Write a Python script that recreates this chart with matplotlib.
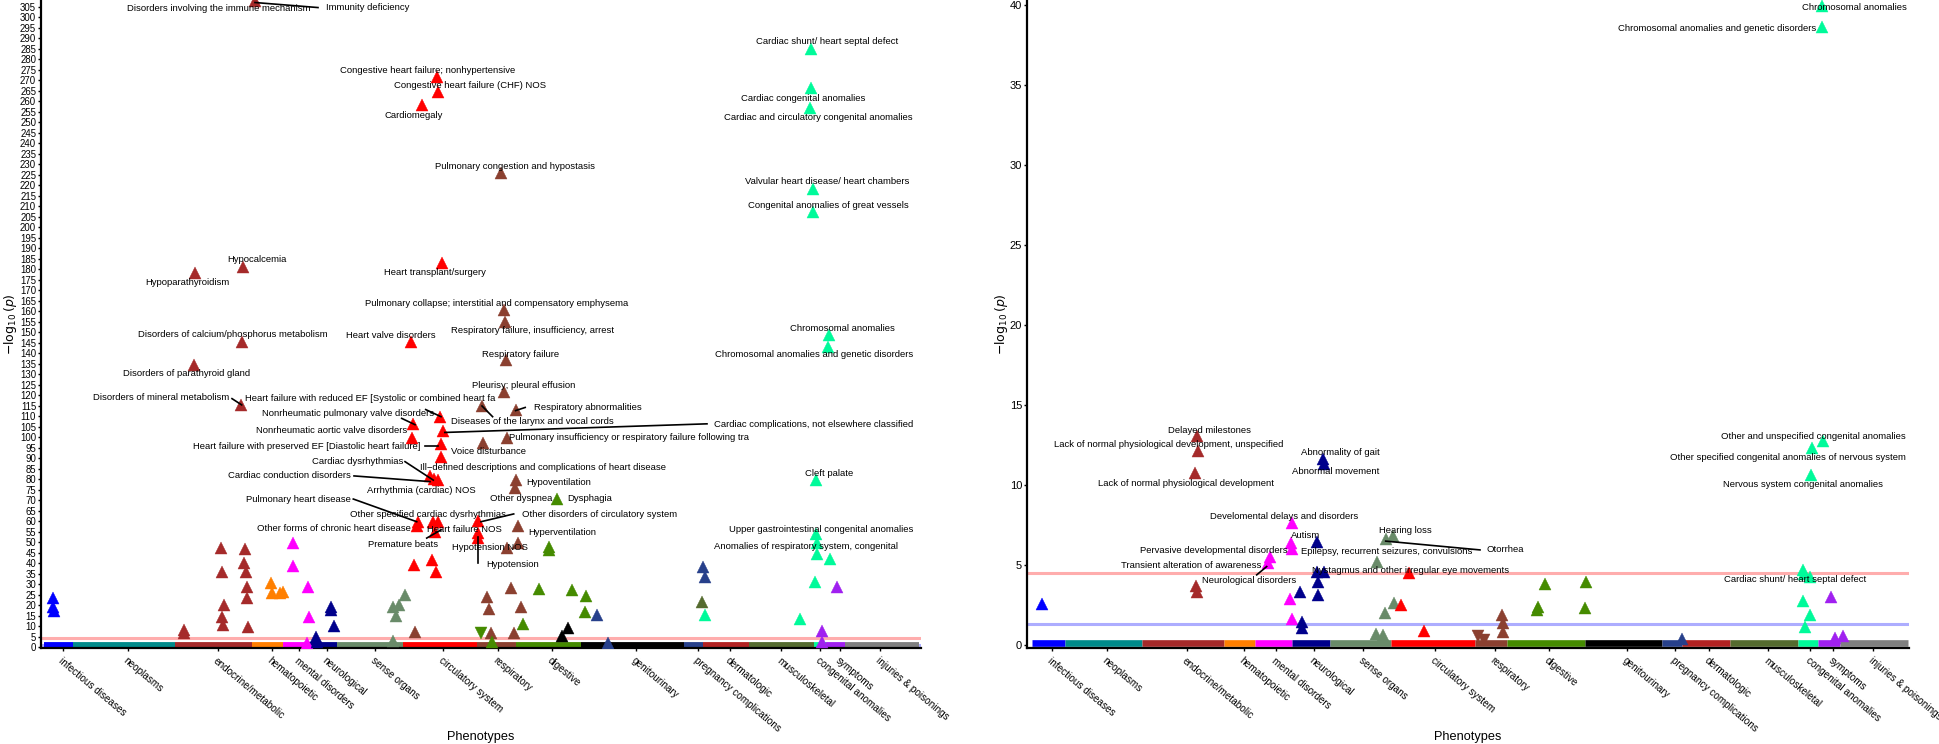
import matplotlib
matplotlib.use("Agg")
import matplotlib.pyplot as plt

plt.rcParams['font.family'] = ['Liberation Sans', 'DejaVu Sans']

# phenotype groups, shared by both panels
categories = ["infectious diseases", "neoplasms", "endocrine/metabolic", "hematopoietic",
              "mental disorders", "neurological", "sense organs", "circulatory system",
              "respiratory", "digestive", "genitourinary", "pregnancy complications",
              "dermatologic", "musculoskeletal", "congenital anomalies", "symptoms",
              "injuries & poisonings"]
cat_colors = ["#0000FF", "#008B8B", "#A52A2A", "#FF7F00", "#FF00FF", "#00008B", "#698B69",
              "#FF0000", "#8B4030", "#458B00", "#000000", "#27408B", "#B22222", "#556B2F",
              "#00FA9A", "#A020F0", "#7F7F7F"]

# ---- left panel ----------------------------------------------------------
left_ticks = [22, 87, 177, 231, 258, 286, 334, 402, 457, 511, 595, 657, 689, 740, 779, 799, 839]
left_span_start = [3, 32, 134, 211, 242, 266, 296, 362, 436, 475, 540, 643, 662, 708, 773, 785, 804]
left_span_end = [32, 134, 211, 242, 266, 296, 362, 436, 475, 540, 643, 662, 708, 773, 785, 804, 878]

left_x = [12, 12, 13,
          214, 202, 154, 201, 153, 200, 143, 143, 180, 181, 183, 181, 182, 204, 203, 205, 206, 206, 207,
          230, 231, 239, 242,
          252, 252, 267, 268, 266,
          290, 290, 293, 275, 276,
          364, 358, 352, 355, 352,
          396, 397, 381, 401, 370, 399, 372, 402, 371, 400, 400, 389, 393, 397, 376, 377, 392, 397, 394,
          437, 437, 437, 373, 391, 395, 374,
          460, 463, 464, 465, 463, 441, 475, 442, 466, 475, 474, 477, 477, 466, 470, 446, 448, 480, 450,
          473, 451, 440,
          516, 508, 508, 498, 531, 545, 544, 482, 527, 521,
          556, 567,
          662, 664, 661, 664,
          759,
          770, 770, 769, 772, 772, 788, 787, 775, 775, 776, 776, 789, 774, 781, 781,
          796, 800, 798]
left_y = [23.3, 19.3, 17.5,
          307.5, 181.2, 178.4, 145.2, 134.4, 115.4, 8.2, 6.7, 47.4, 35.7, 20.1, 14.3, 10.6, 46.8, 40, 36,
          28.9, 23.3, 9.5,
          30.5, 26, 26, 26.5,
          49.5, 38.9, 28.9, 14.3, 2.2,
          19.3, 17.7, 10.1, 5, 2.7,
          24.9, 20.1, 19, 15, 3.1,
          271.7, 264.6, 258.2, 182.9, 145.5, 109.8, 106.3, 103.1, 99.5, 96.8, 90.5, 81.5, 80, 79.5, 57.8,
          59.5, 59.8, 59.8, 55,
          60.3, 54.3, 51.9, 39.2, 41.6, 35.7, 7.1,
          225.7, 160.6, 155, 136.8, 121.7, 114.9, 113, 97.4, 99.5, 79.7, 75.7, 57.9, 49.5, 47.1, 28.1,
          24.1, 18.1, 19, 6.6,
          7, 2.7, 6.6,
          70.5, 47.9, 46.3, 27.8, 27.3, 24.6, 16.7, 11, 9, 5.4,
          15.4, 1.9,
          38.4, 33.7, 21.7, 15.4,
          13.3,
          284.9, 266.2, 257, 218.2, 207.4, 148.7, 143.1, 79.7, 54, 49.5, 44.4, 42, 30.9, 7.8, 2.7,
          28.9, 3.5, 1.5]
left_cat = [0] * 3 + [2] * 19 + [3] * 4 + [4] * 5 + [5] * 5 + [6] * 5 + [7] * 25 + \
           [8] * 21 + [9] * 10 + [10] * 2 + [11] * 4 + [13] + [14] * 15 + [15] * 3
left_down = [False] * len(left_x)
left_down[left_x.index(440)] = True

left_labels = ["Disorders involving the immune mechanism", "Immunity deficiency",
               "Congestive heart failure; nonhypertensive", "Congestive heart failure (CHF) NOS",
               "Cardiomegaly", "Pulmonary congestion and hypostasis", "Hypocalcemia",
               "Hypoparathyroidism", "Heart transplant/surgery",
               "Pulmonary collapse; interstitial and compensatory emphysema",
               "Respiratory failure, insufficiency, arrest", "Heart valve disorders",
               "Disorders of calcium/phosphorus metabolism", "Respiratory failure",
               "Disorders of parathyroid gland", "Chromosomal anomalies",
               "Chromosomal anomalies and genetic disorders", "Cardiac shunt/ heart septal defect",
               "Cardiac congenital anomalies", "Cardiac and circulatory congenital anomalies",
               "Valvular heart disease/ heart chambers", "Congenital anomalies of great vessels",
               "Disorders of mineral metabolism",
               "Heart failure with reduced EF [Systolic or combined heart fa",
               "Pleurisy; pleural effusion", "Respiratory abnormalities",
               "Nonrheumatic pulmonary valve disorders", "Diseases of the larynx and vocal cords",
               "Cardiac complications, not elsewhere classified",
               "Nonrheumatic aortic valve disorders",
               "Pulmonary insufficiency or respiratory failure following tra",
               "Heart failure with preserved EF [Diastolic heart failure]", "Voice disturbance",
               "Cardiac dysrhythmias",
               "Ill\u2212defined descriptions and complications of heart disease",
               "Cardiac conduction disorders", "Cleft palate", "Hypoventilation",
               "Arrhythmia (cardiac) NOS", "Other dyspnea", "Dysphagia", "Pulmonary heart disease",
               "Other specified cardiac dysrhythmias", "Other disorders of circulatory system",
               "Other forms of chronic heart disease", "Heart failure NOS",
               "Upper gastrointestinal congenital anomalies", "Hyperventilation", "Premature beats",
               "Anomalies of respiratory system, congenital", "Hypotension NOS", "Hypotension"]
left_label_x = [177.5, 326.5, 387, 429, 373, 473.7, 216, 146, 394, 455.5, 492, 350, 192, 479.5,
                146, 801.7, 773, 785.8, 762, 777.5, 786, 787, 120, 329.5, 483, 546.4, 306.8,
                491.6, 773, 291, 588, 265.5, 447.7, 316.8, 502.4, 248.7, 788, 517.3, 380, 480,
                549, 257, 387.5, 559, 293.3, 423.4, 780, 521, 361.7, 765, 449.4, 472]
left_label_y = [304, 304.4, 274.7, 267.4, 253.1, 228.9, 184.8, 173.6, 178.4, 163.8, 150.8, 148.4,
                148.7, 139.5, 130.6, 151.9, 139.2, 288.6, 261.1, 252.4, 221.7, 210.5, 118.9, 118.7,
                124.6, 114.4, 111.4, 107.4, 106.2, 103.1, 99.8, 95.5, 93, 88.4, 85.5, 81.6, 82.7,
                78.4, 74.6, 70.8, 71, 70.6, 63.3, 63.1, 56.5, 56.3, 56.2, 54.8, 49, 48.2, 47.4,
                39.2]
# leader lines: (x0, y0, x1, y1)
left_segments = [(214, 307, 277, 304.6), (191, 118.4, 200.7, 115.4), (384.7, 113.2, 400, 109.8),
                 (360.7, 109.0, 374, 106), (666, 106.4, 403.8, 102.3), (384, 95.8, 397.3, 95.8),
                 (364, 88.4, 392.3, 79.6), (313, 81.6, 389, 78.9), (312.3, 70.6, 375.7, 59.8),
                 (472.7, 63.5, 440, 59.8), (385.7, 52, 400, 55.9), (437.5, 40, 437.5, 52.7),
                 (441, 114.9, 451.6, 109.8), (484.2, 114.2, 474.6, 112.7)]

# ---- right panel ---------------------------------------------------------
right_ticks = [25, 80, 160, 217, 249, 287, 336, 408, 468, 522, 600, 648, 682, 741, 783, 806, 846]
right_span_start = [5, 38, 115, 197, 228, 265, 303, 364, 448, 480, 558, 635, 655, 703, 771, 791, 813]
right_span_end = [38, 115, 197, 228, 265, 303, 364, 448, 480, 558, 635, 655, 703, 771, 791, 813, 881]

right_x = [15,
           170, 171, 168, 169, 170,
           265, 264, 265, 243, 241, 263, 265,
           296, 297, 290, 290, 297, 291, 291, 273, 275, 275,
           359, 366, 350, 367, 358, 349, 356,
           382, 374, 397,
           475, 476, 476, 451, 457,
           518, 559, 511, 510, 558,
           655,
           795, 795, 796, 785, 784, 776, 777, 783, 776, 783, 778,
           804, 808, 816]
right_y = [2.54,
           13.04, 12.1, 10.75, 3.67, 3.31,
           7.63, 6.38, 6.0, 5.5, 5.08, 2.84, 1.59,
           11.6, 11.3, 6.4, 4.56, 4.56, 3.94, 3.1, 3.27, 1.44, 1.02,
           6.58, 6.8, 5.19, 2.63, 1.96, 0.67, 0.6,
           4.46, 2.48, 0.88,
           1.86, 1.38, 0.82, 0.56, 0.3,
           3.8, 3.94, 2.38, 2.17, 2.3,
           0.34,
           39.9, 38.6, 12.7, 12.3, 10.6, 4.67, 4.4, 4.25, 2.73, 1.86, 1.13,
           2.96, 0.4, 0.54]
right_cat = [0] + [2] * 5 + [4] * 7 + [5] * 10 + [6] * 7 + [7] * 3 + [8] * 5 + [9] * 5 + \
            [11] + [14] * 11 + [15] * 3
right_down = [False] * len(right_x)
right_down[right_x.index(451)] = True
right_down[right_x.index(457)] = True

right_labels = ["Chromosomal anomalies", "Chromosomal anomalies and genetic disorders",
                "Other and unspecified congenital anomalies",
                "Other specified congenital anomalies of nervous system",
                "Nervous system congenital anomalies", "Cardiac shunt/ heart septal defect",
                "Delayed milestones", "Lack of normal physiological development, unspecified",
                "Lack of normal physiological development", "Abnormality of gait",
                "Abnormal movement", "Develomental delays and disorders", "Autism", "Hearing loss",
                "Pervasive developmental disorders", "Epilepsy, recurrent seizures, convulsions",
                "Otorrhea", "Transient alteration of awareness",
                "Nystagmus and other irregular eye movements", "Neurological disorders"]
right_label_x = [827, 689.7, 786.3, 760.5, 776.3, 768, 182.3, 142, 158.7, 313.5, 308.5, 257,
                 278.5, 378.5, 186.8, 359.3, 478.5, 164.3, 383.8, 221.7]
right_label_y = [39.8, 38.5, 13.0, 11.7, 10.0, 4.06, 13.4, 12.5, 10.1, 12.0, 10.8, 8.0, 6.8, 7.15,
                 5.9, 5.8, 5.92, 4.94, 4.63, 4.0]
right_segments = [(358.7, 6.47, 453, 5.92), (229.7, 4.36, 239.7, 4.88)]

bonferroni = 4.5
nominal = 1.3


def draw_panel(ax, ticks, span_start, span_end, xs, ys, cats, down, labels, lx, ly, segs,
               xmax, ylim, yticks, ytick_size, band_y, band_lw):
    ax.axhline(bonferroni, color="#FF9999", alpha=0.8, lw=2.2, zorder=1)
    ax.axhline(nominal, color="#9999FF", alpha=0.8, lw=2.2, zorder=1)
    for s, e, c in zip(span_start, span_end, cat_colors):
        ax.plot([s, e], [band_y, band_y], color=c, lw=band_lw, solid_capstyle='butt', zorder=2)
    for x, y, c, d in zip(xs, ys, cats, down):
        ax.plot(x, y, marker='v' if d else '^', ms=8, color=cat_colors[c], mec=cat_colors[c],
                mew=0.3, ls='none', zorder=3)
    for x0, y0, x1, y1 in segs:
        ax.plot([x0, x1], [y0, y1], color='black', lw=1.2, zorder=4)
    for t, x, y in zip(labels, lx, ly):
        ax.text(x, y, t, ha='center', va='center', fontsize=6.8, zorder=5)

    ax.set_xlim(0, xmax)
    ax.set_ylim(*ylim)
    ax.set_yticks(yticks)
    ax.tick_params(axis='y', labelsize=ytick_size, length=2.5, width=1, pad=1)
    ax.set_xticks(ticks)
    ax.set_xticklabels(categories, rotation=-40, ha='left', va='top', rotation_mode='anchor',
                       fontsize=7.2)
    ax.tick_params(axis='x', length=2.5, width=1, pad=3)
    for side in ['top', 'right']:
        ax.spines[side].set_visible(False)
    for side in ['left', 'bottom']:
        ax.spines[side].set_linewidth(1.6)
    ax.set_xlabel("Phenotypes", fontsize=9.2)
    ax.set_ylabel(r"$-\log_{10}(p)$", fontsize=9)


fig = plt.figure(figsize=(19.4, 7.44), dpi=100)
ax1 = fig.add_axes([41 / 1940, 96 / 744, 880 / 1940, 648 / 744])
ax2 = fig.add_axes([1027 / 1940, 96 / 744, 882 / 1940, 648 / 744])

draw_panel(ax1, left_ticks, left_span_start, left_span_end, left_x, left_y, left_cat, left_down,
           left_labels, left_label_x, left_label_y, left_segments, 880, (-0.33, 308.2),
           list(range(0, 306, 5)), 6.9, 0.95, 4.2)
draw_panel(ax2, right_ticks, right_span_start, right_span_end, right_x, right_y, right_cat,
           right_down, right_labels, right_label_x, right_label_y, right_segments, 882,
           (-0.21, 40.29), list(range(0, 41, 5)), 8, 0.09, 4.8)

ax1.xaxis.set_label_coords(0.5, -(736.7 - 648) / 648)
ax2.xaxis.set_label_coords(0.5, -(736.7 - 648) / 648)
ax1.yaxis.set_label_coords(-31 / 880, 0.5)
ax2.yaxis.set_label_coords(-25 / 882, 0.5)
for ax in (ax1, ax2):
    ax.xaxis.label.set_verticalalignment('center')
    ax.yaxis.label.set_verticalalignment('center')

fig.savefig("out.png", dpi=100)
